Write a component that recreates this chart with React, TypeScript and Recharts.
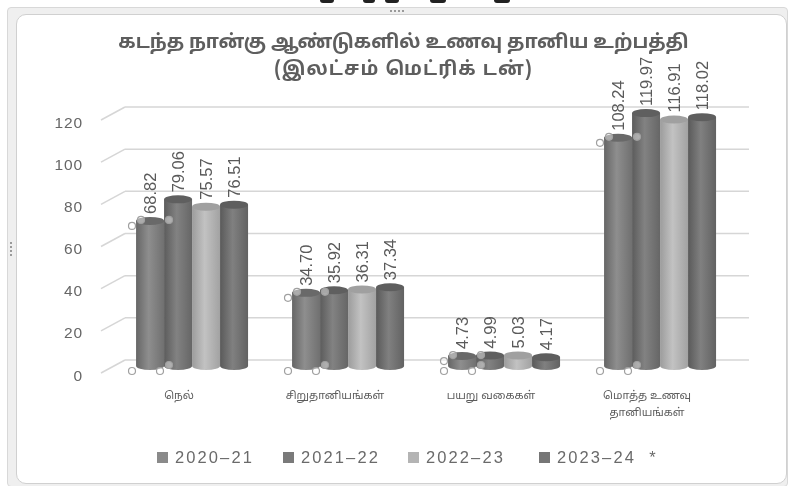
import {
  Bar,
  CartesianGrid,
  ComposedChart,
  LabelList,
  Legend,
  Line,
  XAxis,
  YAxis,
} from 'recharts';

const categories = ['நெல்', 'சிறுதானியங்கள்', 'பயறு வகைகள்', 'மொத்த உணவு தானியங்கள்'];
const values2021 = [68.82, 34.7, 4.73, 108.24];
const values2122 = [79.06, 35.92, 4.99, 119.97];
const values2223 = [75.57, 36.31, 5.03, 116.91];
const values2324 = [76.51, 37.34, 4.17, 118.02];
const seriesNames = ['2020–21', '2021–22', '2022–23', '2023–24\u00a0\u00a0*'];
const yTicks = [0, 20, 40, 60, 80, 100, 120];

const rows = categories.map((name, i) => ({
  name,
  a: values2021[i],
  b: values2122[i],
  c: values2223[i],
  d: values2324[i],
}));

const FONT = '"Liberation Sans", Arial, sans-serif';
const TAMIL = '"Noto Sans Tamil", "Noto Sans", "DejaVu Sans", sans-serif';
// the bars stand in the middle of the 3d floor, the grid on its back wall
const BAR_DX = 14;
const BAR_DY = -7;
const WALL_DX = 24;
const WALL_DY = -13;

const shades = [
  ['#666666', '#8e8e8e', '#707070'],
  ['#5c5c5c', '#828282', '#666666'],
  ['#9c9c9c', '#c2c2c2', '#a2a2a2'],
  ['#5a5a5a', '#808080', '#626262'],
];
const topShades = ['#696969', '#5f5f5f', '#a0a0a0', '#5e5e5e'];
const legendShades = ['#8a8a8a', '#7a7a7a', '#b4b4b4', '#767676'];
const legendWidths = [126, 125, 131, 120];

function Cylinder({ x, y, width, height, series }: any) {
  const rx = width / 2;
  const ry = 4;
  const left = x + BAR_DX;
  const top = y + BAR_DY;
  const bottom = y + height + BAR_DY;
  return (
    <g>
      <path
        d={`M${left},${top} L${left},${bottom} A${rx},${ry} 0 0 0 ${left + width},${bottom} L${left + width},${top} Z`}
        fill={`url(#cyl${series})`}
      />
      <ellipse cx={left + rx} cy={top} rx={rx} ry={ry} fill={topShades[series]} />
    </g>
  );
}

function ValueLabel({ x, width, y, value }: any) {
  const cx = x + width / 2 + BAR_DX;
  return (
    <text
      transform={`translate(${cx + 6},${y + BAR_DY - 7}) rotate(-90)`}
      fontFamily={FONT}
      fontSize={16.5}
      fill="#5a5a5a"
    >
      {Number(value).toFixed(2)}
    </text>
  );
}

// selection handles left on the first series in the source picture
function Handles({ cx, cy }: any) {
  if (cx == null) return null;
  const upper = [
    [-47, -2],
    [-38, -8],
    [-10, -8],
  ];
  const base = [
    [-47, 371],
    [-19, 371],
    [-10, 365],
  ];
  return (
    <g fill="#ffffff" fillOpacity={0.45} stroke="#a0a0a0" strokeWidth={1.2}>
      {upper.map(([dx, dy], i) => (
        <circle key={i} cx={cx + dx} cy={cy + dy} r={3.5} />
      ))}
      {base.map(([dx, py], i) => (
        <circle key={`b${i}`} cx={cx + dx} cy={py} r={3.5} />
      ))}
    </g>
  );
}

function WallLine({ x1, x2, y1 }: any) {
  return (
    <g stroke="#d6d6d6" strokeWidth={1.5} fill="none">
      <line x1={x1} y1={y1} x2={x1 + WALL_DX} y2={y1 + WALL_DY} />
      <line x1={x1 + WALL_DX} y1={y1 + WALL_DY} x2={x2 + WALL_DX} y2={y1 + WALL_DY} />
    </g>
  );
}

function CategoryTick({ x, y, payload }: any) {
  const words = String(payload.value).split(' ');
  const lines = words.length > 2 ? [words.slice(0, 2).join(' '), words.slice(2).join(' ')] : [payload.value];
  return (
    <text x={x} y={y} textAnchor="middle" fontFamily={TAMIL} fontSize={11} fill="#5c5c5c">
      {lines.map((line: string, i: number) => (
        <tspan key={i} x={x} dy={i === 0 ? 0 : 17}>
          {line}
        </tspan>
      ))}
    </text>
  );
}

function LegendRow({ payload }: any) {
  const items = (payload ?? []).filter((p: any) => p.type !== 'none');
  return (
    <div style={{ display: 'flex', fontFamily: FONT, fontSize: 16.5, letterSpacing: 2.1, color: '#6a6a6a' }}>
      {items.map((p: any, i: number) => (
        <div key={i} style={{ display: 'flex', alignItems: 'center', width: legendWidths[i], whiteSpace: 'nowrap' }}>
          <span style={{ width: 11, height: 11, marginRight: 7, background: legendShades[i], flexShrink: 0 }} />
          {p.value}
        </div>
      ))}
    </div>
  );
}

const dot = (left: number, top: number) => (
  <span
    key={`${left}-${top}`}
    style={{ position: 'absolute', left, top, width: 2, height: 2, background: '#9a9a9a' }}
  />
);

export default function App() {
  return (
    <div
      style={{
        position: 'absolute',
        left: 0,
        top: 0,
        width: 791,
        height: 486,
        background: '#fff',
        overflow: 'hidden',
        filter: 'blur(0.7px)',
      }}
    >
      {/* bottoms of the heading cut off above the chart */}
      {[
        [320, 14],
        [363, 12],
        [385, 14],
        [430, 16],
        [494, 16],
      ].map(([left, width]) => (
        <span
          key={left}
          style={{ position: 'absolute', left, top: 0, width, height: 3, background: '#222', borderRadius: '0 0 6px 6px' }}
        />
      ))}
      {/* chart frame of the source slide */}
      <div
        style={{
          position: 'absolute',
          left: 7,
          top: 7,
          width: 779,
          height: 478,
          border: '1px solid #d8d8d8',
          background: '#efefef',
          borderRadius: 4,
        }}
      />
      <div
        style={{
          position: 'absolute',
          left: 16,
          top: 14,
          width: 769,
          height: 468,
          background: '#fff',
          border: '1px solid #d0d0d0',
          borderRadius: 10,
        }}
      />
      {[390, 394, 398, 402].map((x) => dot(x, 10))}
      {[242, 246, 250, 254].map((y) => dot(10, y))}
      <div
        style={{
          position: 'absolute',
          left: 8,
          width: 791,
          top: 30,
          textAlign: 'center',
          fontFamily: TAMIL,
          fontWeight: 700,
          fontSize: 19,
          lineHeight: '27px',
          color: '#5e5e5e',
        }}
      >
        கடந்த நான்கு ஆண்டுகளில் உணவு தானிய உற்பத்தி
        <br />
        <span style={{ letterSpacing: 1.1 }}>(இலட்சம் மெட்ரிக் டன்)</span>
      </div>
      <ComposedChart
        width={791}
        height={486}
        data={rows}
        barCategoryGap="13.5%"
        barGap={0}
        margin={{ top: 120, right: 66, bottom: 83, left: 0 }}
        style={{ position: 'absolute', left: 0, top: 0 }}
      >
        <defs>
          {shades.map((s, i) => (
            <linearGradient key={i} id={`cyl${i}`} x1="0" y1="0" x2="1" y2="0">
              <stop offset="0" stopColor={s[0]} />
              <stop offset="0.45" stopColor={s[1]} />
              <stop offset="1" stopColor={s[2]} />
            </linearGradient>
          ))}
        </defs>
        <CartesianGrid vertical={false} horizontal={(p: any) => <WallLine key={p.key ?? p.y1} {...p} />} />
        <XAxis
          dataKey="name"
          axisLine={false}
          tickLine={false}
          interval={0}
          height={30}
          tick={<CategoryTick />}
          tickMargin={20}
        />
        <YAxis
          domain={[0, 120]}
          ticks={yTicks}
          width={101}
          axisLine={false}
          tickLine={false}
          tickMargin={12}
          tick={{ fontFamily: FONT, fontSize: 15.5, fill: '#666', letterSpacing: 0.9, dy: 2 }}
        />
        {['a', 'b', 'c', 'd'].map((key, i) => (
          <Bar
            key={key}
            dataKey={key}
            name={seriesNames[i]}
            isAnimationActive={false}
            shape={(p: any) => <Cylinder {...p} series={i} />}
          >
            <LabelList dataKey={key} content={(p: any) => <ValueLabel {...p} />} />
          </Bar>
        ))}
        <Line
          dataKey="a"
          legendType="none"
          stroke="none"
          isAnimationActive={false}
          dot={(p: any) => <Handles key={p.index} {...p} />}
        />
        <Legend
          verticalAlign="middle"
          align="center"
          content={<LegendRow />}
          wrapperStyle={{ position: 'absolute', left: 157, top: 448, width: 520 }}
        />
      </ComposedChart>
    </div>
  );
}
